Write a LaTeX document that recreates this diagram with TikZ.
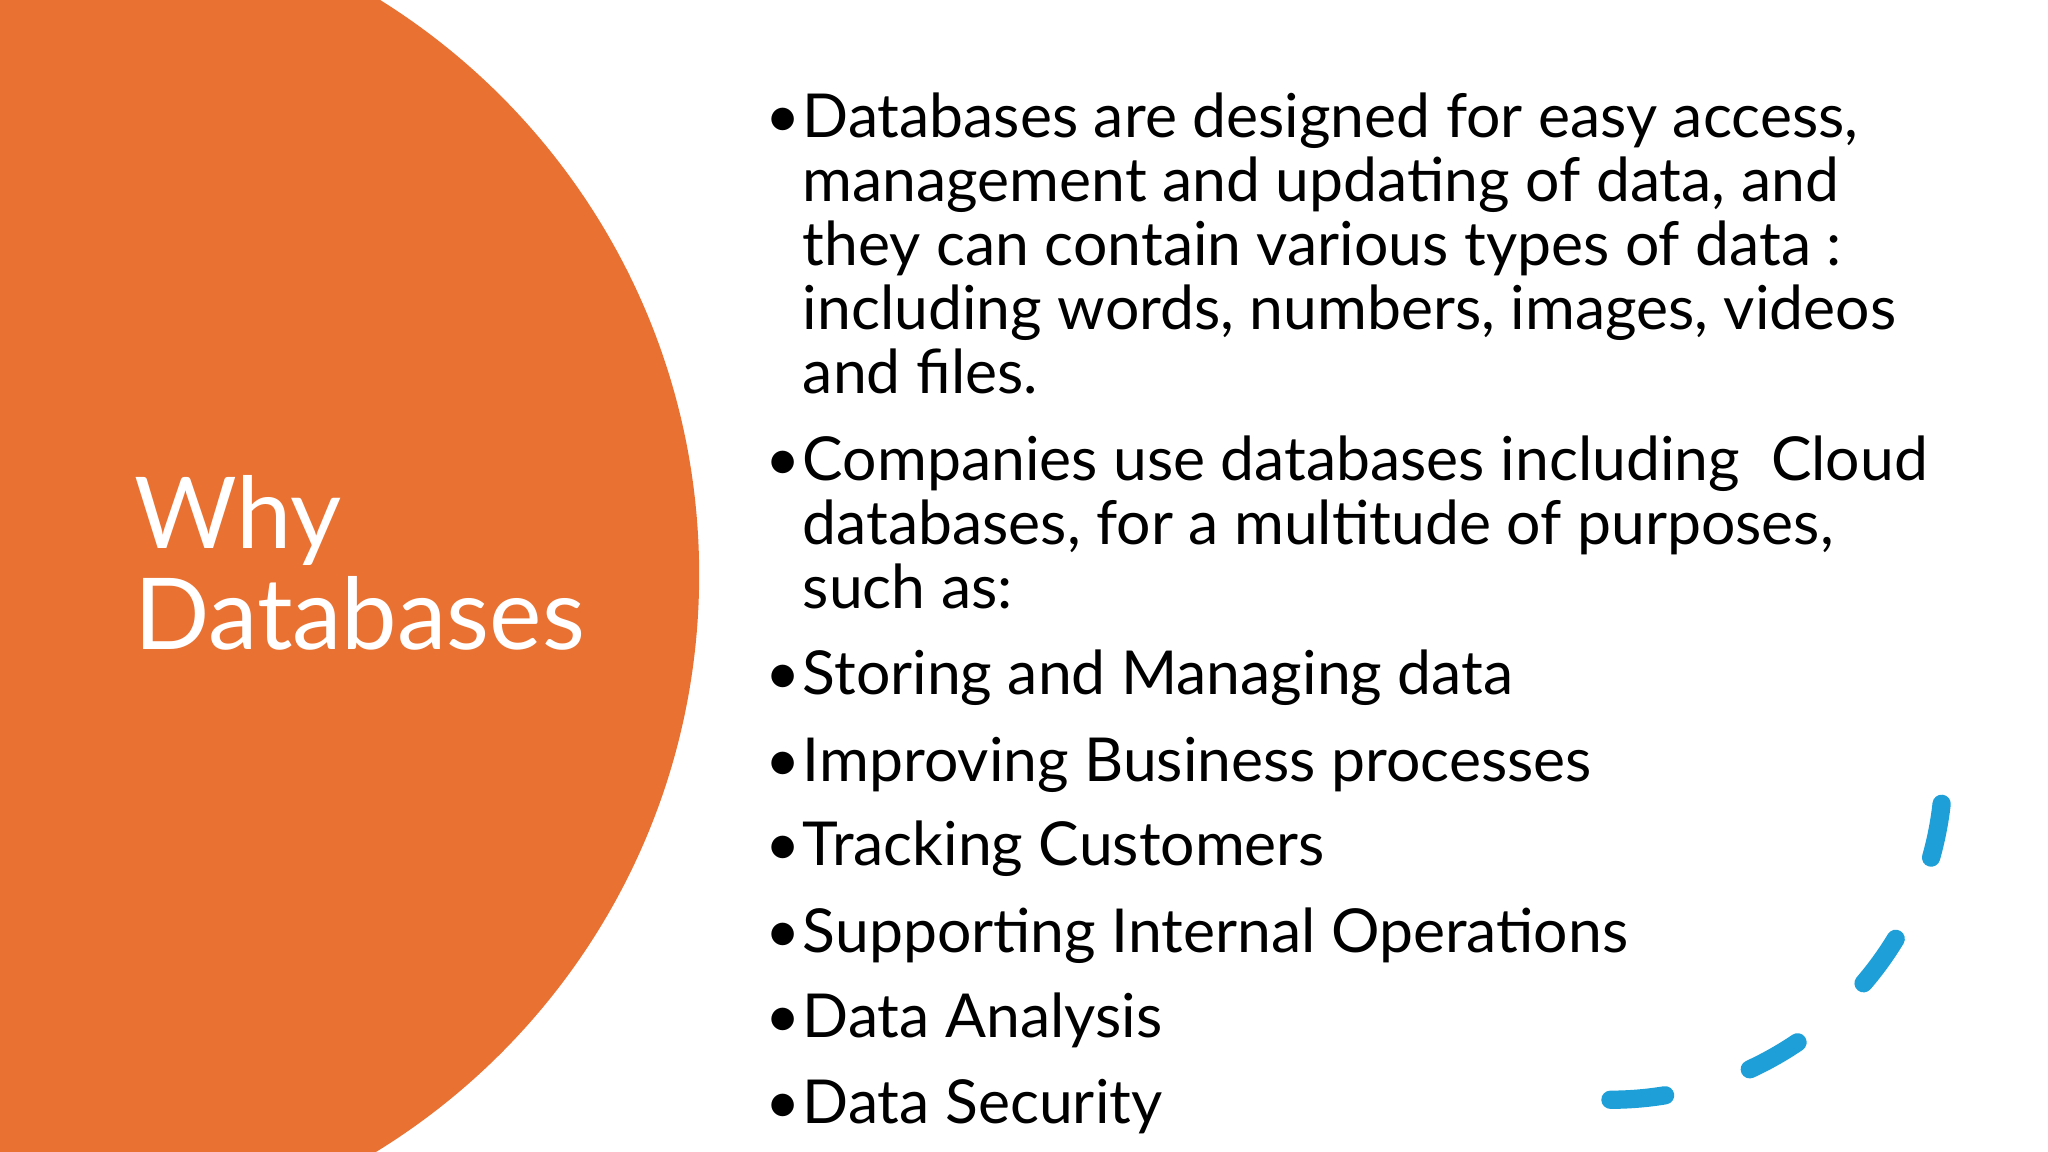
\documentclass[tikz,border=0pt]{standalone}
\usepackage{fontspec}
\setmainfont{Lato}
\definecolor{orng}{HTML}{E97132}
\definecolor{blu}{HTML}{1E9FD7}
\begin{document}
\begin{tikzpicture}[x=0.01cm,y=-0.01cm,
  line/.style={anchor=base west,inner sep=0pt,font=\fontsize{13.2pt}{16pt}\selectfont},
  bul/.style={anchor=base west,inner sep=0pt,font=\fontsize{13.2pt}{16pt}\selectfont}]
\useasboundingbox (0,0) rectangle (1568,882);
\clip (0,0) rectangle (1568,882);
\fill[orng] (17,440) circle[radius=5.18cm];
\node[anchor=base west,inner sep=0pt,text=white,font=\fontsize{21.6pt}{26pt}\selectfont] (t1) at (102,420) {Why};
\node[anchor=base west,inner sep=0pt,text=white,font=\fontsize{21.6pt}{26pt}\selectfont] (t2) at (102,497) {Databases};
\foreach \y/\t [count=\i] in {105/{Databases are designed for easy access,},154/{management and updating of data, and},203/{they can contain various types of data :},252/{including words, numbers, images, videos},301/{and files.},368/{Companies use databases including\ \ Cloud},417/{databases, for a multitude of purposes,},466/{such as:},532/{Storing and Managing data},598/{Improving Business processes},663/{Tracking Customers},729/{Supporting Internal Operations},794/{Data Analysis},860/{Data Security}}
  \node[line] (l\i) at (614,\y) {\t};
\foreach \y [count=\i] in {105,368,532,598,663,729,794,860}
  \node[bul] (b\i) at (585,\y) {•};
\draw[blu,line width=0.14cm,line cap=round,dash pattern=on 0.42cm off 0.68cm]
  (1233,842) arc[start angle=-90,end angle=0,radius=2.55cm];
\end{tikzpicture}
\end{document}
